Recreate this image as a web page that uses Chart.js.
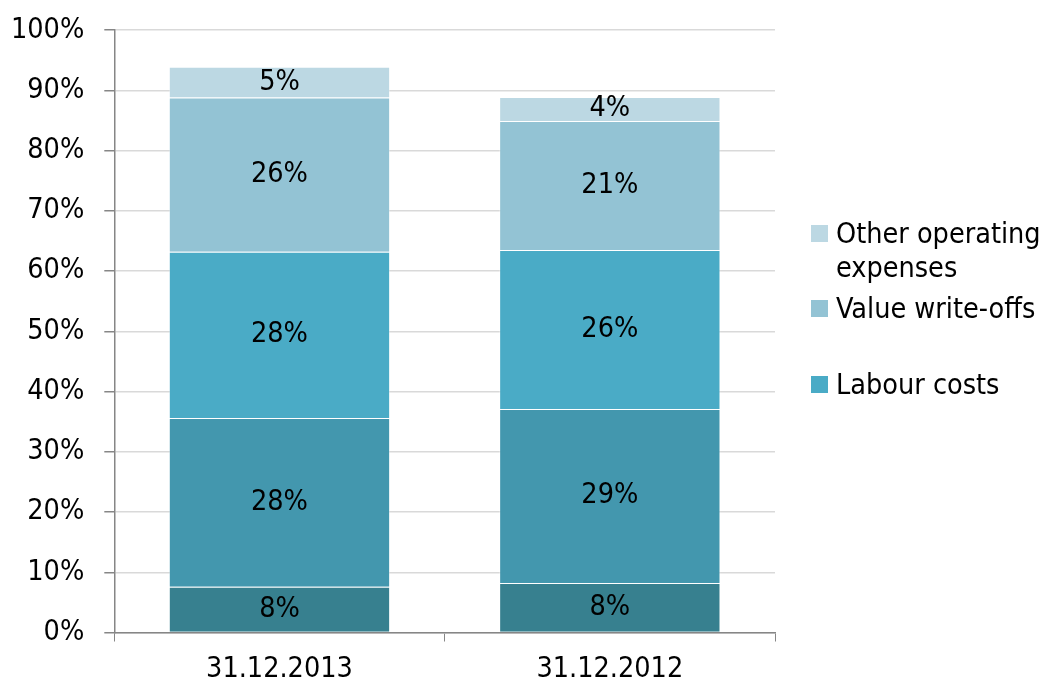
<!DOCTYPE html>
<html>
<head>
<meta charset="utf-8">
<script src="https://cdn.jsdelivr.net/npm/chart.js@4/dist/chart.umd.min.js"></script>
<style>
    html, body { margin: 0; padding: 0; background: #fff; }
    #wrap { position: relative; width: 1041px; height: 684px; overflow: hidden; }
    #chart { position: absolute; left: 0; top: -7px; }
    #legend { position: absolute; left: 811px; top: 0; font-family: 'DejaVu Sans Condensed', Tahoma, 'DejaVu Sans', sans-serif; font-size: 28.5px; color: #000; }
    #legend .item { position: absolute; left: 0; white-space: nowrap; line-height: 34px; }
    #legend .box { position: absolute; left: 0; width: 17px; height: 17px; }
    #legend .txt { position: absolute; left: 25px; top: 0; }
</style>
</head>
<body>
<div id="wrap">
    <canvas id="chart" width="1041" height="705"></canvas>
    <div id="legend"></div>
</div>
<script>
'use strict';

var categories = ['31.12.2013', '31.12.2012'];

// stacked from the bottom up, values in %
var seriesNames = ['', '', 'Labour costs', 'Value write-offs', 'Other operating\nexpenses'];
var bottomValues = [7.6, 8.2];
var secondValues = [28.0, 28.9];
var labourValues = [27.6, 26.4];
var writeOffValues = [25.6, 21.4];
var otherValues = [5.1, 4.0];

var yTicks = [0, 10, 20, 30, 40, 50, 60, 70, 80, 90, 100];

var colors = ['#37808f', '#4397ae', '#4aabc6', '#93c3d4', '#bcd8e3'];
var fontFamily = "'DejaVu Sans Condensed', Tahoma, 'DejaVu Sans', sans-serif";
var fontSize = 28.5;

var allValues = [bottomValues, secondValues, labourValues, writeOffValues, otherValues];

var datasets = [];
for (var i = 0; i < allValues.length; i++) {
    datasets.push({
        label: seriesNames[i],
        data: allValues[i],
        backgroundColor: colors[i],
        borderColor: 'rgba(255,255,255,0.35)',
        borderWidth: 1,
        borderSkipped: 'bottom'
    });
}

// write the rounded value in the middle of every segment
var segmentLabels = {
    id: 'segmentLabels',
    afterDatasetsDraw: function (chart) {
        var ctx = chart.ctx;
        ctx.save();
        ctx.font = fontSize + 'px ' + fontFamily;
        ctx.fillStyle = '#000';
        ctx.textAlign = 'center';
        ctx.textBaseline = 'middle';
        chart.data.datasets.forEach(function (ds, di) {
            chart.getDatasetMeta(di).data.forEach(function (bar, j) {
                var y = (bar.y + bar.base) / 2;
                ctx.fillText(Math.round(ds.data[j]) + '%', bar.x, y);
            });
        });
        ctx.restore();
    }
};

new Chart(document.getElementById('chart').getContext('2d'), {
    type: 'bar',
    data: { labels: categories, datasets: datasets },
    options: {
        responsive: false,
        animation: false,
        layout: { padding: { top: 0, right: 266, bottom: 0, left: -9 } },
        plugins: {
            legend: { display: false },
            tooltip: { enabled: false }
        },
        datasets: {
            bar: { categoryPercentage: 1.0, barPercentage: 0.67 }
        },
        scales: {
            x: {
                stacked: true,
                grid: {
                    display: true,
                    drawOnChartArea: false,
                    offset: true,
                    tickLength: 9,
                    tickColor: '#868686'
                },
                border: { color: '#868686', width: 1.5 },
                ticks: {
                    color: '#000',
                    padding: 14,
                    font: { family: fontFamily, size: fontSize, lineHeight: 1.0 }
                }
            },
            y: {
                stacked: true,
                min: 0,
                max: 100,
                afterBuildTicks: function (axis) {
                    axis.ticks = yTicks.map(function (v) { return { value: v }; });
                },
                grid: {
                    color: '#d9d9d9',
                    lineWidth: 1.5,
                    tickLength: 10,
                    tickColor: '#868686'
                },
                border: { color: '#868686', width: 1.5 },
                ticks: {
                    color: '#000',
                    padding: 20,
                    font: { family: fontFamily, size: fontSize },
                    callback: function (v) { return v + '%'; }
                }
            }
        }
    },
    plugins: [segmentLabels]
});

// legend on the right, top entry first
var legendTops = [217, 292, 368];
var legendSeries = [4, 3, 2];
var legend = document.getElementById('legend');
legendSeries.forEach(function (s, k) {
    var item = document.createElement('div');
    item.className = 'item';
    item.style.top = legendTops[k] + 'px';
    var box = document.createElement('div');
    box.className = 'box';
    box.style.background = colors[s];
    box.style.top = '8px';
    var txt = document.createElement('div');
    txt.className = 'txt';
    txt.innerHTML = seriesNames[s].replace('\n', '<br>');
    item.appendChild(box);
    item.appendChild(txt);
    legend.appendChild(item);
});
</script>
</body>
</html>
